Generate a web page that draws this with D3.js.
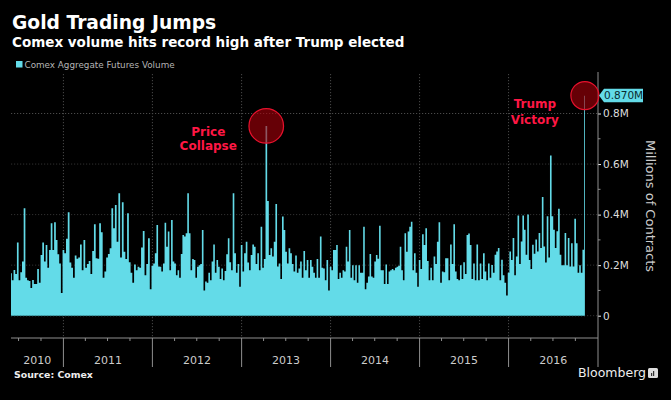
<!DOCTYPE html>
<html><head><meta charset="utf-8">
<script src="https://cdn.jsdelivr.net/npm/d3@7"></script>
<style>html,body{margin:0;padding:0;background:#000}svg{display:block}text{font-family:"DejaVu Sans",sans-serif}</style>
</head><body><svg id="c" width="671" height="400"></svg>
<script>
// Comex aggregate futures volume, thousands of contracts
const vol2010=[168,140,181,165,290,140,172,214,425,150,140,137,110,141,125,125,185,130,240,290,214,280,190,260,366,260,370,300,243,207,90];
const vol2011=[260,247,304,409,210,190,150,238,225,230,282,180,300,190,205,216,165,256,362,227,225,366,330,150,175,230,244,267,425,346,438,293,484,230,449,253,224,405,211,170,130,203,180,194,190,270,335,160,205,306,105];
const vol2012=[198,207,247,359,195,194,175,207,368,273,333,180,379,214,207,160,180,150,244,319,313,326,484,326,180,224,220,150,194,200,205,339,100,135,130,170,140,214,282,170,220,194,145,187,140,177,243,306,211,180,484,247,170,205,115];
const vol2013=[280,175,247,293,210,180,240,282,273,205,247,180,352,190,224,751,454,240,267,234,293,442,195,207,145,392,339,253,207,267,247,205,175,238,170,187,214,150,256,180,220,150,220,194,170,150,224,150,313,190,187,140,220,100];
const vol2014=[194,180,260,260,280,145,170,150,180,175,273,214,339,150,200,140,200,130,200,170,170,352,105,130,155,244,155,150,214,240,225,356,180,180,125,203,125,175,180,185,180,190,194,198,273,180,140,326,253,333,352,372,180,247,170,115];
const vol2015=[220,185,322,280,346,216,140,190,140,234,205,293,370,130,175,172,227,227,140,282,205,362,175,145,140,200,145,211,165,319,325,280,145,207,140,282,140,207,145,247,175,140,207,150,201,170,241,254,268,140,221,160,130,80];
const vol2016=[170,254,220,307,160,234,396,205,294,396,340,241,400,220,185,281,245,301,254,327,268,470,274,210,393,230,634,393,340,268,334,423,241,200,200,327,200,307,195,287,195,384,287,170,200,170,261,870];
const volumeByYear=[vol2010,vol2011,vol2012,vol2013,vol2014,vol2015,vol2016];
const yearStarts=["2010-05-31","2011-01-01","2012-01-01","2013-01-01","2014-01-01","2015-01-01","2016-01-01","2016-11-09"];
const yearLabels=["2010","2011","2012","2013","2014","2015","2016"];
const yMajor=[0,200,400,600,800];
const yMajorLabels=["0","0.2M","0.4M","0.6M","0.8M"];
const yMinor=[100,300,500,700];
const gridDates=["2011-01-01","2012-01-01","2013-01-01","2014-01-01","2015-01-01","2016-01-01"];
const quarterMonths=[3,6,9];
const lastValue="0.870M";
const annotations=[{date:"2013-04-12",value:751,r:17.3,lines:["Price","Collapse"],dx:-58,y0:135.5,gap:14.6},
                   {date:"2016-11-09",value:871,r:14,lines:["Trump","Victory"],dx:-50,y0:108,gap:15.6}];

const pd=d3.utcParse("%Y-%m-%d");
const data=[];
volumeByYear.forEach((vals,k)=>{
  const a=+pd(yearStarts[k]),b=+pd(yearStarts[k+1]);
  const n=k===volumeByYear.length-1?vals.length-1:vals.length;
  vals.forEach((v,i)=>data.push({t:new Date(a+(b-a)*i/n),v}));
});

const x=d3.scaleUtc().domain([pd("2010-05-31"),pd("2017-01-01")]).range([11,597.8]);
const y=d3.scaleLinear().domain([0,800]).range([315.7,113.5]);
const svg=d3.select("#c");
svg.append("rect").attr("width",671).attr("height",400).attr("fill","#000");

const dot="1.2,1.8";
// grid
svg.append("g").selectAll("line").data(yMajor).join("line")
  .attr("x1",11).attr("x2",598).attr("y1",d=>y(d)).attr("y2",d=>y(d))
  .attr("stroke",d=>d===800?"#4a4a4a":"#303030").attr("stroke-dasharray",dot);
svg.append("g").selectAll("line").data(gridDates).join("line")
  .attr("x1",d=>x(pd(d))).attr("x2",d=>x(pd(d))).attr("y1",74).attr("y2",338)
  .attr("stroke","#484848").attr("stroke-dasharray",dot);

// volume
const area=d3.area().x(d=>x(d.t)).y0(y(0)).y1(d=>y(d.v)).curve(d3.curveStep);
svg.append("path").datum(data).attr("d",area).attr("fill","#63dbe8");
svg.append("g").selectAll("line").data([0]).join("line")
  .attr("x1",11).attr("x2",x(pd("2016-11-09"))).attr("y1",y(0)).attr("y2",y(0))
  .attr("stroke","#3d8f98").attr("stroke-dasharray",dot);

// right axis
const axisCol="#8f8f8f";
const yAxis=d3.axisRight(y).tickValues(yMajor).tickSize(3).tickPadding(2).tickFormat((d,i)=>yMajorLabels[i]);
const gy=svg.append("g").attr("transform","translate(598,0)").call(yAxis);
gy.select(".domain").remove();
gy.selectAll("line").attr("stroke","#eee");
gy.selectAll("text").attr("fill","#ddd").attr("font-size",10.5).attr("x",5);
svg.append("line").attr("x1",598).attr("x2",598).attr("y1",72).attr("y2",367).attr("stroke",axisCol);
svg.append("g").selectAll("line").data(yMinor).join("line")
  .attr("x1",598).attr("x2",600.5).attr("y1",d=>y(d)).attr("y2",d=>y(d)).attr("stroke",axisCol);

// bottom axis
svg.append("line").attr("x1",11).attr("x2",598).attr("y1",338).attr("y2",338).attr("stroke",axisCol);
svg.append("g").selectAll("line").data(gridDates).join("line")
  .attr("x1",d=>x(pd(d))).attr("x2",d=>x(pd(d))).attr("y1",338).attr("y2",367).attr("stroke",axisCol);
const quarters=[];
yearLabels.forEach(yr=>quarterMonths.forEach(m=>{
  const q=new Date(Date.UTC(+yr,m,1));
  if(q>=x.domain()[0])quarters.push(q);
}));
svg.append("g").selectAll("line").data(quarters).join("line")
  .attr("x1",d=>x(d)).attr("x2",d=>x(d)).attr("y1",338).attr("y2",341).attr("stroke",axisCol);
const yrEdges=[x.domain()[0],...gridDates.map(pd),x.domain()[1]];
svg.append("g").selectAll("text").data(yearLabels).join("text")
  .attr("x",(d,i)=>(x(yrEdges[i])+x(yrEdges[i+1]))/2).attr("y",364)
  .attr("text-anchor","middle").attr("font-size",11).attr("fill","#ccc").text(d=>d);

// annotations
annotations.forEach(a=>{
  const cx=x(pd(a.date)),cy=y(a.value);
  svg.append("circle").attr("cx",cx).attr("cy",cy).attr("r",a.r)
    .attr("fill","rgba(170,0,10,0.6)").attr("stroke","#e8112d").attr("stroke-width",1.2);
  a.lines.forEach((l,i)=>svg.append("text").attr("x",cx+a.dx).attr("y",a.y0+i*a.gap)
    .attr("text-anchor","middle").attr("font-size",12).attr("font-weight","bold")
    .attr("fill","#ff1744").text(l));
});

// last value tag
const ty=y(871);
svg.append("path").attr("fill","#63dbe8")
  .attr("d",d3.line()([[599,ty],[604,ty-6.8],[643,ty-6.8],[643,ty+6.8],[604,ty+6.8]])+"Z");
svg.append("text").attr("x",604).attr("y",ty+3.8).attr("font-size",10.5).attr("fill","#0a2a30").text(lastValue);

// titles
svg.append("text").attr("x",12).attr("y",29).attr("font-size",18.7).attr("font-weight","bold").attr("fill","#fff").text("Gold Trading Jumps");
svg.append("text").attr("x",12).attr("y",47).attr("font-size",13.5).attr("font-weight","bold").attr("fill","#fff").text("Comex volume hits record high after Trump elected");
svg.append("rect").attr("x",16).attr("y",61).attr("width",6.5).attr("height",6.5).attr("fill","#63dbe8");
svg.append("text").attr("x",24.5).attr("y",67.5).attr("font-size",8.8).attr("fill","#b5b5b5").text("Comex Aggregate Futures Volume");
svg.append("text").attr("x",14).attr("y",378).attr("font-size",9.4).attr("font-weight","bold").attr("fill","#eee").text("Source: Comex");
svg.append("text").attr("transform","translate(646,206) rotate(90)").attr("text-anchor","middle")
  .attr("font-size",13).attr("fill","#ccc").text("Millions of Contracts");
svg.append("text").attr("x",578).attr("y",377).attr("font-size",12.5).attr("fill","#eee").text("Bloomberg");
svg.append("rect").attr("x",648).attr("y",368).attr("width",10).attr("height",10).attr("rx",1.5).attr("fill","#ddd");
svg.append("rect").attr("x",651).attr("y",373).attr("width",1.2).attr("height",3).attr("fill","#333");
svg.append("rect").attr("x",653).attr("y",371).attr("width",1.2).attr("height",5).attr("fill","#333");
</script></body></html>
